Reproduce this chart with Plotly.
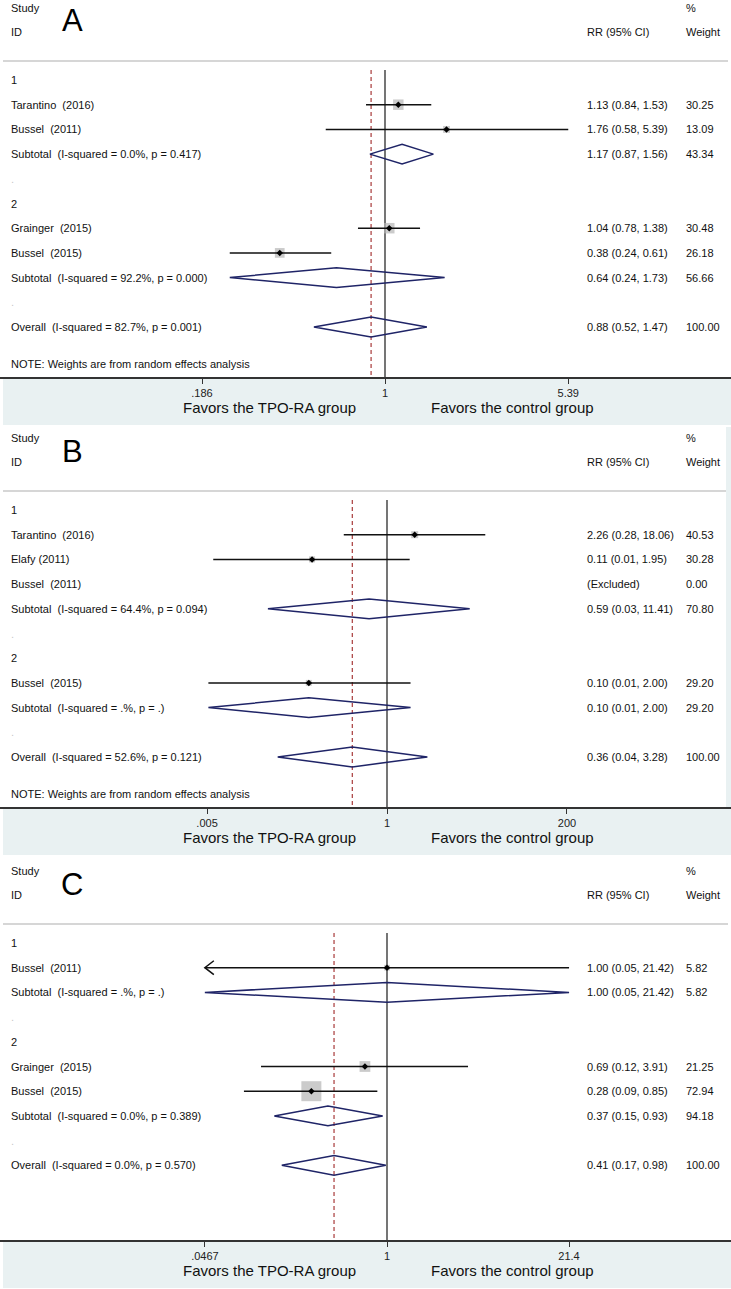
import math
import plotly.graph_objects as go

W, H = 731, 1289
FONT = "Liberation Sans, Arial, Helvetica, sans-serif"
LETTER_FONT = "Liberation Sans, Arial, sans-serif"

# ---------------- data ----------------
A_labels = ["1", "Tarantino\u00a0 (2016)", "Bussel\u00a0 (2011)",
            "Subtotal\u00a0 (I-squared = 0.0%, p = 0.417)", ".",
            "2", "Grainger\u00a0 (2015)", "Bussel\u00a0 (2015)",
            "Subtotal\u00a0 (I-squared = 92.2%, p = 0.000)", ".",
            "Overall\u00a0 (I-squared = 82.7%, p = 0.001)"]
A_kind = ["group", "study", "study", "sub", "blank", "group", "study", "study", "sub", "blank", "sub"]
A_rr = [None, 1.13, 1.76, 1.17, None, None, 1.04, 0.38, 0.64, None, 0.88]
A_lo = [None, 0.84, 0.58, 0.87, None, None, 0.78, 0.24, 0.24, None, 0.52]
A_hi = [None, 1.53, 5.39, 1.56, None, None, 1.38, 0.61, 1.73, None, 1.47]
A_w = [None, 30.25, 13.09, 43.34, None, None, 30.48, 26.18, 56.66, None, 100.00]
A_ticks = [0.186, 1, 5.39]
A_ticktext = [".186", "1", "5.39"]
A_note = "NOTE: Weights are from random effects analysis"

B_labels = ["1", "Tarantino\u00a0 (2016)", "Elafy (2011)", "Bussel\u00a0 (2011)",
            "Subtotal\u00a0 (I-squared = 64.4%, p = 0.094)", ".",
            "2", "Bussel\u00a0 (2015)", "Subtotal\u00a0 (I-squared = .%, p = .)", ".",
            "Overall\u00a0 (I-squared = 52.6%, p = 0.121)"]
B_kind = ["group", "study", "study", "excluded", "sub", "blank", "group", "study", "sub", "blank", "sub"]
B_rr = [None, 2.26, 0.11, None, 0.59, None, None, 0.10, 0.10, None, 0.36]
B_lo = [None, 0.28, 0.006, None, 0.03, None, None, 0.0052, 0.0052, None, 0.04]
B_hi = [None, 18.06, 1.95, None, 11.41, None, None, 2.00, 2.00, None, 3.28]
B_w = [None, 40.53, 30.28, 0.00, 70.80, None, None, 29.20, 29.20, None, 100.00]
B_ticks = [0.005, 1, 200]
B_ticktext = [".005", "1", "200"]
B_note = "NOTE: Weights are from random effects analysis"

C_labels = ["1", "Bussel\u00a0 (2011)", "Subtotal\u00a0 (I-squared = .%, p = .)", ".",
            "2", "Grainger\u00a0 (2015)", "Bussel\u00a0 (2015)",
            "Subtotal\u00a0 (I-squared = 0.0%, p = 0.389)", ".",
            "Overall\u00a0 (I-squared = 0.0%, p = 0.570)"]
C_kind = ["group", "study", "sub", "blank", "group", "study", "study", "sub", "blank", "sub"]
C_rr = [None, 1.00, 1.00, None, None, 0.69, 0.28, 0.37, None, 0.41]
C_lo = [None, 0.0466, 0.0466, None, None, 0.12, 0.09, 0.15, None, 0.17]
C_hi = [None, 21.42, 21.42, None, None, 3.91, 0.85, 0.93, None, 0.98]
C_w = [None, 5.82, 5.82, None, None, 21.25, 72.94, 94.18, None, 100.00]
C_ticks = [0.0467, 1, 21.4]
C_ticktext = [".0467", "1", "21.4"]
C_note = None

panel_letters = ["A", "B", "C"]
favors_left = "Favors the TPO-RA group"
favors_right = "Favors the control group"

panels = [
    dict(labels=A_labels, kind=A_kind, rr=A_rr, lo=A_lo, hi=A_hi, w=A_w,
         ticks=A_ticks, ticktext=A_ticktext, note=A_note),
    dict(labels=B_labels, kind=B_kind, rr=B_rr, lo=B_lo, hi=B_hi, w=B_w,
         ticks=B_ticks, ticktext=B_ticktext, note=B_note),
    dict(labels=C_labels, kind=C_kind, rr=C_rr, lo=C_lo, hi=C_hi, w=C_w,
         ticks=C_ticks, ticktext=C_ticktext, note=C_note),
]

# ---------------- layout / style constants ----------------
GEOM = [dict(top=0, one_px=385, ppd=250.5, box_k=1.9),
        dict(top=430, one_px=387, ppd=78.2, box_k=1.1),
        dict(top=863, one_px=387, ppd=136.8, box_k=2.34)]
PITCH = 24.7
ROW0 = 80
AXIS_OFF = 377
BG_OFF = 425
X_LABEL = 9
X_RR = 585
X_W = 684
BG = "#e9f1f2"
NAVY = "#1f2467"
RED = "#a83a3a"
TXT = "#111111"


def py(px):
    return 1 - px / H


fig = go.Figure()
annotations = []
shapes = []
layout_axes = {}


def add_text(x, y, yref, text, size=11, anchor="left", color=TXT, family=FONT):
    annotations.append(dict(x=x, xref="paper", y=y, yref=yref, text=text, showarrow=False,
                            xanchor=anchor, yanchor="middle",
                            font=dict(size=size, family=family, color=color)))


for i, (P, G) in enumerate(zip(panels, GEOM)):
    sfx = "" if i == 0 else str(i + 1)
    xa, ya = "x" + sfx, "y" + sfx
    top = G["top"]
    row0 = top + ROW0
    axis_px = top + AXIS_OFF
    bg_end = min(top + BG_OFF, H)
    y_bottom = (axis_px - row0) / PITCH
    y_top = (top - row0) / PITCH

    shapes.append(dict(type="rect", xref="paper", yref="paper", x0=3 / W, x1=1,
                       y0=py(bg_end), y1=py(axis_px), fillcolor=BG, line=dict(width=0),
                       layer="below"))
    shapes.append(dict(type="line", xref="paper", yref="paper", x0=3 / W, x1=728 / W,
                       y0=py(top + 61), y1=py(top + 61),
                       line=dict(color="#c9c9c9", width=1.5), layer="below"))

    pooled = P["rr"][-1]
    fig.add_trace(go.Scatter(x=[1, 1], y=[-0.4, y_bottom], mode="lines",
                             line=dict(color="#1a1a1a", width=1.2),
                             xaxis=xa, yaxis=ya, hoverinfo="skip", showlegend=False))
    fig.add_trace(go.Scatter(x=[pooled, pooled], y=[-0.4, y_bottom], mode="lines",
                             line=dict(color=RED, width=1.2, dash="4px,3px"),
                             xaxis=xa, yaxis=ya, hoverinfo="skip", showlegend=False))

    ci_x, ci_y = [], []
    box_x, box_y, box_s = [], [], []
    dia_x, dia_y = [], []
    arr_x, arr_y = [], []
    for r, kind in enumerate(P["kind"]):
        rr, lo, hi, w = P["rr"][r], P["lo"][r], P["hi"][r], P["w"][r]
        if kind == "study":
            ci_x += [lo, hi, None]
            ci_y += [r, r, None]
            box_x.append(rr)
            box_y.append(r)
            box_s.append(G["box_k"] * math.sqrt(w))
            if lo < P["ticks"][0]:
                m = 10 ** (9 / G["ppd"])
                arr_x += [lo * m, lo, lo * m, None]
                arr_y += [r - 0.28, r, r + 0.28, None]
        elif kind == "sub":
            dia_x += [lo, rr, hi, rr, lo, None]
            dia_y += [r, r - 0.4, r, r + 0.4, r, None]

    fig.add_trace(go.Scatter(x=box_x, y=box_y, mode="markers",
                             marker=dict(symbol="square", size=box_s, color="#b5b5b5",
                                         line=dict(width=0)),
                             xaxis=xa, yaxis=ya, hoverinfo="skip", showlegend=False))
    fig.add_trace(go.Scatter(x=ci_x, y=ci_y, mode="lines",
                             line=dict(color=TXT, width=1.5),
                             xaxis=xa, yaxis=ya, hoverinfo="skip", showlegend=False))
    if arr_x:
        fig.add_trace(go.Scatter(x=arr_x, y=arr_y, mode="lines",
                                 line=dict(color=TXT, width=1.5),
                                 xaxis=xa, yaxis=ya, hoverinfo="skip", showlegend=False))
    fig.add_trace(go.Scatter(x=box_x, y=box_y, mode="markers",
                             marker=dict(symbol="diamond", size=5, color="#000000"),
                             xaxis=xa, yaxis=ya, hoverinfo="skip", showlegend=False))
    fig.add_trace(go.Scatter(x=dia_x, y=dia_y, mode="lines",
                             line=dict(color=NAVY, width=1.5),
                             xaxis=xa, yaxis=ya, hoverinfo="skip", showlegend=False))

    for r, kind in enumerate(P["kind"]):
        add_text(X_LABEL / W, r, ya, P["labels"][r],
                 color="#c8c8c8" if kind == "blank" else TXT)
        if kind in ("study", "sub"):
            add_text(X_RR / W, r, ya, f"{P['rr'][r]:.2f} ({P['lo'][r]:.2f}, {P['hi'][r]:.2f})")
            add_text(X_W / W, r, ya, f"{P['w'][r]:.2f}")
        elif kind == "excluded":
            add_text(X_RR / W, r, ya, "(Excluded)")
            add_text(X_W / W, r, ya, f"{P['w'][r]:.2f}")
    if P["note"]:
        add_text(X_LABEL / W, len(P["labels"]) + 0.5, ya, P["note"])

    for txt, xpx, ypx in [("Study", X_LABEL, 8), ("ID", X_LABEL, 32),
                          ("RR (95% CI)", X_RR, 32), ("%", X_W, 8), ("Weight", X_W, 32)]:
        add_text(xpx / W, py(top + ypx), "paper", txt)
    add_text(72 / W, py(top + 21), "paper", panel_letters[i], size=31, anchor="center",
             color="#000000", family=LETTER_FONT)
    for txt, xc in [(favors_left, 269), (favors_right, 512)]:
        add_text(xc / W, py(axis_px + 30), "paper", txt, size=15, anchor="center")

    layout_axes["xaxis" + sfx] = dict(
        type="log", domain=[0, 1], anchor=ya,
        range=[(0 - G["one_px"]) / G["ppd"], (W - G["one_px"]) / G["ppd"]],
        tickvals=P["ticks"], ticktext=P["ticktext"], ticks="outside", ticklen=5,
        tickwidth=1, tickcolor="#333333", showline=True, linecolor="#333333", linewidth=1.5,
        showgrid=False, zeroline=False, fixedrange=True,
        tickfont=dict(size=11, family=FONT, color="#222222"))
    layout_axes["yaxis" + sfx] = dict(
        domain=[py(axis_px), py(top)], range=[y_bottom, y_top], anchor=xa,
        visible=False, showgrid=False, zeroline=False, fixedrange=True)

shapes.append(dict(type="rect", xref="paper", yref="paper", x0=726 / W, x1=1,
                   y0=py(807), y1=py(427), fillcolor=BG, line=dict(width=0), layer="below"))

fig.update_layout(
    width=W, height=H, margin=dict(l=0, r=0, t=0, b=0),
    paper_bgcolor="white", plot_bgcolor="rgba(0,0,0,0)",
    showlegend=False, annotations=annotations, shapes=shapes,
    font=dict(family=FONT, size=11, color=TXT),
    **layout_axes)

fig.write_html("out.html", config={"displayModeBar": False},
               post_script="document.body.style.margin='0';document.body.style.padding='0';")
